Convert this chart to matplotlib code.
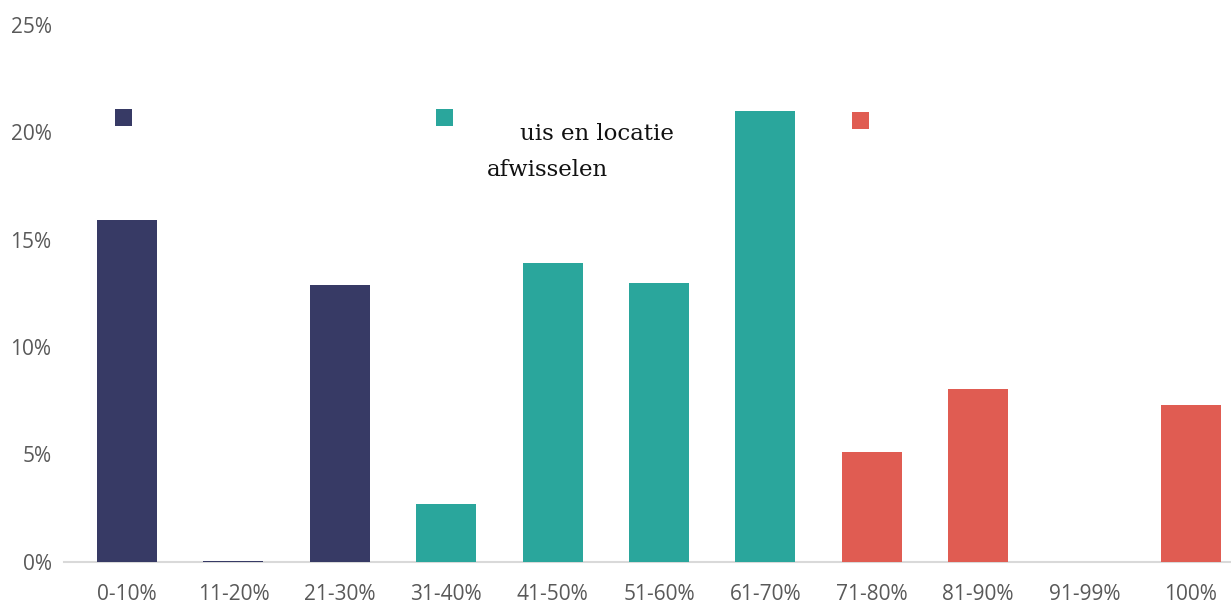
import matplotlib
matplotlib.use("Agg")
import matplotlib.pyplot as plt
from matplotlib.patches import Rectangle

categories = ["0-10%", "11-20%", "21-30%", "31-40%", "41-50%", "51-60%",
              "61-70%", "71-80%", "81-90%", "91-99%", "100%"]
values = [15.9, 0.05, 12.9, 2.7, 13.9, 13.0, 21.0, 5.1, 8.05, 0.0, 7.3]
groups = [0, 0, 0, 1, 1, 1, 1, 2, 2, 2, 2]
group_colors = ["#373A65", "#2AA69C", "#E05C52"]
yticks = [0, 5, 10, 15, 20, 25]
ytick_labels = ["0%", "5%", "10%", "15%", "20%", "25%"]
legend_line1 = "uis en locatie"
legend_line2 = "afwisselen"

W, H = 1231, 604
fig = plt.figure(figsize=(W / 100, H / 100), dpi=100)
ax = fig.add_axes([64 / W, (H - 561.7) / H, 1 - 64 / W, (561.7 - 25) / H])

xs = list(range(len(categories)))
ax.bar(xs, values, width=0.564, color=[group_colors[g] for g in groups], zorder=2)

ax.set_xlim(-0.592, 10.376)
ax.set_ylim(0, 25)
ax.set_yticks(yticks)
ax.set_yticklabels(ytick_labels)
ax.set_xticks(xs)
ax.set_xticklabels(categories)
for s in ["top", "right", "left"]:
    ax.spines[s].set_visible(False)
ax.spines["bottom"].set_color("#D9D9D9")
ax.spines["bottom"].set_linewidth(1.5)
ax.spines["bottom"].set_zorder(1)
ax.tick_params(axis="both", length=0, labelcolor="#595959", labelsize=15)
ax.tick_params(axis="y", pad=9)
ax.tick_params(axis="x", pad=16)
for lab in ax.get_xticklabels() + ax.get_yticklabels():
    lab.set_fontfamily(["Open Sans", "DejaVu Sans"])

# legend squares (pixel positions converted to figure fraction)
squares = [(115, 109), (436, 109), (852, 112)]
for (px, py), c in zip(squares, group_colors):
    fig.add_artist(Rectangle((px / W, 1 - (py + 17) / H), 17 / W, 17 / H,
                             transform=fig.transFigure, color=c, lw=0))

fig.text(520 / W, 1 - 140 / H, legend_line1, fontsize=16.5, family="DejaVu Serif",
         color="#111111", va="baseline", ha="left")
fig.text(487 / W, 1 - 176 / H, legend_line2, fontsize=16.5, family="DejaVu Serif",
         color="#111111", va="baseline", ha="left")

fig.savefig("out.png", dpi=100)
